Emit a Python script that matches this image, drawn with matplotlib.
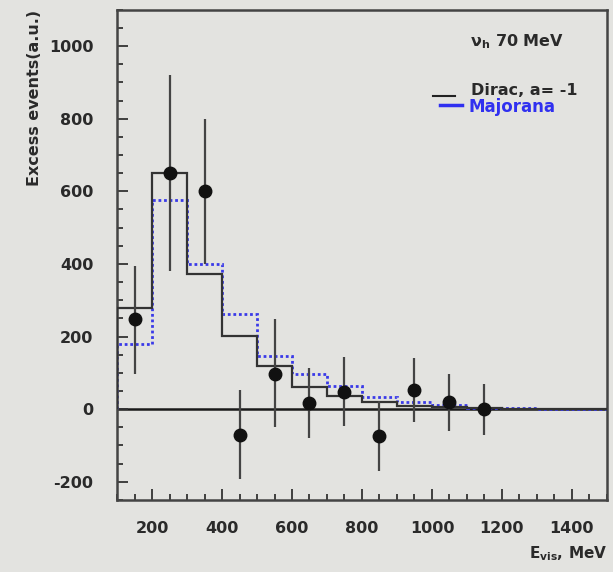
import numpy as np
import matplotlib
matplotlib.use("Agg")
import matplotlib.pyplot as plt
from matplotlib.ticker import MultipleLocator

plt.rcParams['font.family'] = ['DejaVu Sans']
plt.rcParams['font.weight'] = 'bold'
plt.rcParams['axes.labelweight'] = 'bold'
plt.rcParams['axes.unicode_minus'] = False
plt.rcParams['mathtext.default'] = 'bf'

# bin edges (MeV) and histograms
edges = [100, 200, 300, 400, 500, 600, 700, 800, 900, 1000, 1100, 1200, 1300, 1400, 1500]
dirac = [278, 650, 373, 202, 120, 60, 36, 20, 10, 6, 3, 1, 1, 0]
majorana = [180, 577, 400, 262, 145, 97, 63, 33, 21, 11, 4, 2, 1, 0]

# data points
e_pts = [150, 250, 350, 450, 550, 650, 750, 850, 950, 1050, 1150]
excess = [248, 650, 600, -70, 98, 17, 48, -74, 52, 19, 0]
err_lo = [150, 270, 200, 122, 148, 97, 95, 97, 88, 80, 70]
err_hi = [147, 270, 200, 122, 150, 97, 95, 97, 90, 78, 70]

bg = '#e3e3e0'
fig = plt.figure(figsize=(6.13, 5.72), dpi=100, facecolor=bg)
ax = fig.add_axes([0.191, 0.126, 0.799, 0.857], facecolor=bg)

ax.axhline(0, color='#1a1a1a', lw=1.8, zorder=1)

ax.stairs(majorana, edges, color='#3a3ae8', lw=2.0, linestyle=(0, (1, 1)), zorder=2)
ax.stairs(dirac, edges, color='#333333', lw=1.6, zorder=3)

ax.errorbar(e_pts, excess, yerr=[err_lo, err_hi], fmt='o', color='#111111',
            ecolor='#444444', elinewidth=1.6, markersize=9, capsize=0, zorder=4)

ax.set_xlim(100, 1500)
ax.set_ylim(-250, 1100)
ax.xaxis.set_major_locator(MultipleLocator(200))
ax.xaxis.set_minor_locator(MultipleLocator(50))
ax.yaxis.set_major_locator(MultipleLocator(200))
ax.yaxis.set_minor_locator(MultipleLocator(50))
ax.tick_params(which='both', direction='in', color='#333333', width=1.3,
               top=False, right=False, labelsize=11.5, labelcolor='#2a2a2a')
ax.tick_params(which='major', length=8)
ax.tick_params(which='minor', length=4)
ax.tick_params(axis='x', which='major', pad=15)
ax.tick_params(axis='y', which='major', pad=17)
for s in ax.spines.values():
    s.set_color('#444444')
    s.set_linewidth(1.8)

ax.set_ylabel('Excess events(a.u.)', fontsize=11.5, color='#2a2a2a', loc='top', labelpad=5)
ax.set_xlabel(r'E$_{vis}$, MeV', fontsize=11, color='#2a2a2a', loc='right', labelpad=6)

ax.text(0.72, 0.925, r'$\nu_h$ 70 MeV', transform=ax.transAxes, fontsize=11.5, color='#2a2a2a')
ax.plot([0.645, 0.69], [0.824, 0.824], transform=ax.transAxes, color='#222222', lw=1.5)
ax.text(0.722, 0.826, 'Dirac, a= -1', transform=ax.transAxes, fontsize=11.5, color='#2a2a2a')
ax.plot([0.66, 0.705], [0.805, 0.805], transform=ax.transAxes, color='#3030f0', lw=2.5)
ax.text(0.717, 0.792, 'Majorana', transform=ax.transAxes, fontsize=12, color='#3030f0')

fig.savefig('out.png', dpi=100, facecolor=bg)
